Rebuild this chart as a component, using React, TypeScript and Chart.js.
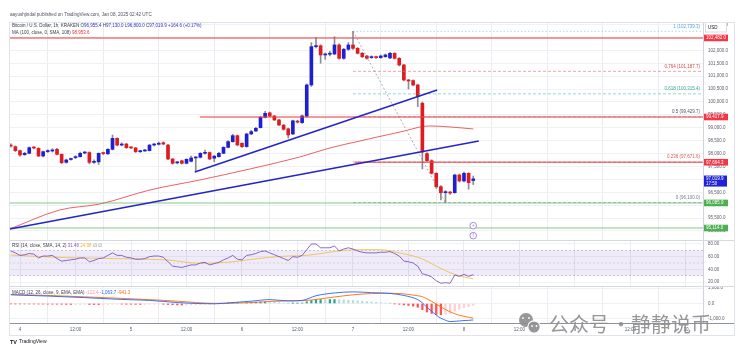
import React, { useEffect, useRef } from 'react';
import { Chart, registerables } from 'chart.js';

Chart.register(...registerables);

const SANS = '"Liberation Sans", Arial, sans-serif';
const CJK = '"Noto Sans CJK SC", sans-serif';
const FS = 4.5;
const TEXT = '#3a3e48';
const AXIS_TEXT = '#5d606b';
const GRID = '#f0f1f4';
const VGRID = '#eaecef';
const UP = '#1f1fd2';
const DOWN = '#e01b1f';
const WICK = '#8c8c94';

const PAD_LEFT = 9;
const PAD_RIGHT = 6;
const AXIS_W = 31;

// ---------- time axis (hours since Jan 4 2025 00:00 UTC) ----------
const X_MIN = -2.38;
const X_MAX = 147.68;
const tickHours = [0, 12, 24, 36, 48, 60, 72, 84, 96, 108, 120, 132, 144];
const tickLabels = ['4', '12:00', '5', '12:00', '6', '12:00', '7', '12:00', '8', '12:00', '9', '12:00', '10'];

// ---------- texts ----------
const headerText = 'aayushjindal published on TradingView.com, Jan 08, 2025 02:42 UTC';
const symbolTitle = 'Bitcoin / U.S. Dollar, 1h, KRAKEN';
const ohlcLabels = ['O', 'H', 'L', 'C'];
const ohlcValues = ['96,955.4', '97,130.0', '96,800.0', '97,019.9'];
const changeText = '+164.6 (+0.17%)';
const maTitle = 'MA (100, close, 0, SMA, 108)';
const maLastText = '98,953.6';
const rsiTitle = 'RSI (14, close, SMA, 14, 2)';
const rsiLegendValues = ['31.46', '24.98', '\u2205', '\u2205'];
const macdTitle = 'MACD (12, 26, close, 9, EMA, EMA)';
const macdLegendValues = ['-122.4', '-1,063.7', '-941.3'];
const countdownText = '17:50';
const watermarkLeft = '公众号';
const watermarkDot = '·';
const watermarkRight = '静静说币';

// ---------- price pane ----------
const PRICE_MIN = 94650;
const PRICE_MAX = 103100;
const priceTicks = [95000, 95500, 96000, 96500, 97000, 97500, 98000, 98500, 99000, 99500, 100000, 100500, 101000, 101500, 102000, 102500, 103000];

const firstCandleHour = -2;
const opens = [
  98320, 98268, 98113, 97958, 98010, 98230, 98200, 97907, 98075, 98100,
  98165, 97970, 97660, 97770, 97840, 97880, 98020, 98040, 97660, 97680,
  98010, 97990, 98165, 98590, 98330, 98370, 98230, 98220, 98075, 98100,
  98115, 98330, 98360, 98420, 98330, 97790, 97640, 97720, 97622, 97700,
  97830, 97855, 98010, 98040, 97820, 97880, 98010, 98240, 98462, 98695,
  98400, 98270, 98760, 98876, 99006, 99406, 99580, 99458, 99303, 99100,
  98960, 98760, 99250, 99200, 99450, 100660, 102145, 102180, 101822, 101850,
  101860, 102210, 101693, 102042, 102210, 102080, 101887, 101780, 101720, 101740,
  101720, 101757, 101706, 101887, 101693, 101434, 100853, 100830, 100659, 99950,
  98000, 97726, 97235, 96718, 96485, 96490, 96485, 97170, 96938, 97235,
  96955.4,
];
const highs = [
  98380, 98300, 98140, 98050, 98260, 98270, 98230, 98100, 98150, 98190,
  98200, 97990, 97790, 97830, 97920, 98060, 98090, 98070, 97760, 98030,
  98060, 98190, 98720, 98610, 98420, 98400, 98270, 98240, 98130, 98160,
  98350, 98400, 98450, 98460, 98360, 97810, 97690, 97750, 97800, 97900,
  97880, 98040, 98140, 98060, 97930, 98050, 98270, 98500, 98750, 98720,
  98420, 98790, 98900, 99020, 99450, 99640, 99610, 99480, 99330, 99130,
  98990, 99300, 99290, 99490, 100700, 102300, 102500, 102220, 101900, 101960,
  102530, 102250, 102080, 102300, 102739.3, 102110, 101920, 101810, 101790, 101780,
  101820, 101860, 101920, 101910, 101720, 101460, 100880, 100860, 100690, 100000,
  98040, 97760, 97260, 96760, 96560, 96540, 97200, 97210, 97280, 97260,
  97130,
];
const lows = [
  98250, 98080, 97900, 97930, 97990, 98180, 97880, 97870, 98040, 98060,
  97950, 97610, 97630, 97740, 97810, 97860, 97990, 97600, 97620, 97580,
  97960, 97970, 98140, 98300, 98300, 98200, 98190, 98040, 98040, 98080,
  98100, 98300, 98330, 98340, 97760, 97590, 97600, 97600, 97600, 97680,
  97300, 97830, 97980, 97760, 97680, 97860, 97990, 98220, 98440, 98300,
  98240, 98250, 98730, 98850, 98990, 99380, 99430, 99280, 99080, 98910,
  98600, 98730, 99180, 99170, 99420, 100600, 102100, 101500, 101650, 101790,
  101830, 101660, 101650, 102000, 102040, 101860, 101720, 101660, 101690, 101690,
  101690, 101730, 101680, 101660, 101400, 100820, 100500, 100620, 99820, 97400,
  97690, 97200, 96650, 96200, 96100, 96420, 96460, 96900, 96900, 96620,
  96800,
];
const closes = [
  98290, 98113, 97945, 98010, 98230, 98215, 97907, 98075, 98100, 98140,
  97970, 97648, 97752, 97790, 97880, 98010, 98040, 97660, 97700, 98010,
  98000, 98165, 98590, 98330, 98370, 98230, 98220, 98075, 98100, 98120,
  98330, 98360, 98400, 98370, 97790, 97622, 97650, 97622, 97777, 97830,
  97840, 98010, 98040, 97790, 97900, 98010, 98240, 98462, 98695, 98333,
  98268, 98759, 98850, 98980, 99406, 99561, 99458, 99303, 99109, 98941,
  98721, 99270, 99220, 99460, 100660, 102145, 102180, 101822, 101850, 101870,
  102210, 101693, 102042, 102210, 102080, 101887, 101757, 101693, 101740, 101720,
  101783, 101822, 101887, 101693, 101434, 100853, 100814, 100659, 100207, 98060,
  97726, 97235, 96718, 96485, 96500, 96470, 97170, 96938, 97235, 96873,
  97019.9,
];

// MA(100) read at a few hours
const maHours = [-2.2, 8.6, 17.3, 28.1, 38.9, 49.7, 60.5, 67, 73.5, 82.2, 88.6, 93, 98];
const maValues = [95078, 95814, 96047, 96589, 96977, 97403, 97868, 98217, 98488, 98837, 99070, 99031, 98953.6];

// blue trend lines (two anchors each)
const trend1Hours = [37.8, 90.2];
const trend1Prices = [97287, 100465];
const trend2Hours = [-2.2, 99.2];
const trend2Prices = [95078, 98488];

// horizontal levels
const levelPrices = [102482.0, 99417.9, 97664.3, 96085.9, 95114.0];
const levelStartHours = [X_MIN, 38.9, 72.4, X_MIN, X_MIN];
const levelColors = ['rgba(236,64,64,0.7)', 'rgba(236,64,64,0.7)', 'rgba(236,64,64,0.7)', 'rgba(76,175,80,0.45)', 'rgba(76,175,80,0.45)'];
const tagColors = ['#f23645', '#f23645', '#f23645', '#4caf50', '#4caf50'];
const lastPrice = 97019.9;

// fibonacci retracement
const fibStartHour = 72;
const fibEndHour = 92;
const fibRatios = ['1', '0.764', '0.618', '0.5', '0.236', '0'];
const fibPrices = [102739.3, 101187.7, 100315.4, 99429.7, 97671.6, 96100.0];
const fibLineColors = ['rgba(100,181,246,0.7)', 'rgba(229,115,115,0.8)', 'rgba(77,182,172,0.7)', 'rgba(120,123,134,0.5)', 'rgba(229,115,115,0.8)', 'rgba(120,123,134,0.6)'];
const fibLabelColors = ['#5a9fe0', '#d04a4a', '#35a891', '#50535e', '#dc5a5a', '#787b86'];

// event markers
const eventHours = [98, 98];
const eventPrices = [95205, 94818];

// ---------- RSI pane ----------
const RSI_MIN = 13.7;
const RSI_MAX = 86.3;
const rsiTicks = [20, 40, 60, 80];
const rsiValues = [
  69, 66, 62, 63, 65, 64, 58, 61, 61, 62,
  57, 53, 54, 55, 56, 58, 58, 52, 54, 57,
  58, 62, 66, 62, 62, 59, 58, 56, 56, 57,
  60, 61, 61, 59, 52, 45, 44, 43, 45, 47,
  47, 50, 51, 47, 49, 51, 55, 58, 62, 56,
  55, 62, 63, 65, 68, 69, 66, 63, 60, 57,
  54, 60, 59, 62, 71, 80, 80, 74, 74, 74,
  77, 69, 72, 74, 72, 69, 67, 66, 66, 66,
  67, 67, 68, 65, 61, 53, 52, 50, 45, 33,
  31, 28, 22, 18, 19, 18, 31, 29, 32, 29,
  31.46,
];
const rsiMaHours = [-2, 10, 18, 25, 32, 39, 46, 49, 54, 58, 62, 66, 70, 74, 78, 82, 84, 86, 88, 90, 92, 94, 96, 98];
const rsiMaValues = [62.6, 58.4, 57.3, 56.3, 54.7, 49.4, 52, 54.7, 59, 61, 62, 66, 70, 71, 71, 66, 63, 59, 53, 45, 38, 32, 28, 24.98];
const rsiBands = [70, 50, 30];

// ---------- MACD pane ----------
const MACD_MIN = -1260;
const MACD_MAX = 1130;
const macdTicks = [-1000, 0, 1000];
const macdHours = [-2, 6, 14, 22, 28, 34, 38, 42, 46, 50, 54, 58, 61, 64, 68, 72, 76, 80, 83, 86, 87, 88, 89, 90, 91, 92, 93, 94, 95, 96, 97, 98];
const macdValues = [560, 480, 380, 260, 200, 60, 0, -20, 60, 150, 250, 170, 200, 500, 680, 750, 700, 650, 520, 250, 40, -250, -500, -750, -950, -1080, -1170, -1150, -1130, -1100, -1090, -1063.7];
const signalValues = [580, 520, 430, 330, 250, 150, 60, 10, 20, 60, 130, 170, 180, 260, 420, 560, 640, 660, 620, 500, 440, 300, 140, -40, -220, -390, -540, -660, -760, -830, -890, -941.3];
const histValues = [
  -20, -25, -28, -30, -32, -35, -38, -40,
  -42, -45, -48, -52, -58, -62, -60, -58,
  -55, -62, -68, -70, -66, -60, -48, -40,
  -42, -48, -52, -56, -58, -56, -50, -46,
  -44, -48, -66, -82, -92, -96, -92, -82,
  -74, -60, -48, -46, -36, -22, -4, 16,
  40, 48, 44, 62, 80, 90, 96, 100,
  96, 82, 58, 30, 6, 14, 18, 26,
  110, 190, 250, 250, 240, 250, 255, 240,
  230, 215, 195, 170, 145, 120, 95, 75,
  55, 30, 5, -20, -50, -90, -120, -170,
  -240, -400, -550, -640, -710, -730, -690, -630,
  -490, -370, -270, -200, -122.4,
];

// ---------- helpers ----------
const fmt1 = (v: number) => v.toLocaleString('en-US', { minimumFractionDigits: 1, maximumFractionDigits: 1 });

function drawRuns(ctx: CanvasRenderingContext2D, runs: Array<[string, string]>, x: number, y: number, size = FS, font = SANS) {
  ctx.save();
  ctx.font = `${size}px ${font}`;
  ctx.textBaseline = 'middle';
  ctx.textAlign = 'left';
  let cx = x;
  for (const [s, c] of runs) {
    ctx.fillStyle = c;
    ctx.fillText(s, cx, y);
    cx += ctx.measureText(s).width;
  }
  ctx.restore();
}

function drawText(ctx: CanvasRenderingContext2D, s: string, x: number, y: number, color: string, align: CanvasTextAlign = 'left', size = FS, font = SANS, weight = '') {
  ctx.save();
  ctx.font = `${weight ? weight + ' ' : ''}${size}px ${font}`;
  ctx.textBaseline = 'middle';
  ctx.textAlign = align;
  ctx.fillStyle = color;
  ctx.fillText(s, x, y);
  ctx.restore();
}

function hLine(ctx: CanvasRenderingContext2D, x1: number, x2: number, y: number, color: string, w = 1) {
  ctx.save();
  ctx.strokeStyle = color;
  ctx.lineWidth = w;
  ctx.beginPath();
  ctx.moveTo(x1, y);
  ctx.lineTo(x2, y);
  ctx.stroke();
  ctx.restore();
}

const lineDs = (data: any[], color: string, width: number, dash: number[] = [], extra: any = {}) => ({
  type: 'line',
  data,
  borderColor: color,
  borderWidth: width,
  borderDash: dash,
  pointRadius: 0,
  fill: false,
  tension: 0,
  ...extra,
});

const zeroPad = (s: any) => {
  s.paddingTop = 0;
  s.paddingBottom = 0;
  s.paddingLeft = 0;
  s.paddingRight = 0;
};

const xScale = (showLabels: boolean) => ({
  type: 'linear',
  min: X_MIN,
  max: X_MAX,
  offset: false,
  afterBuildTicks: (s: any) => { s.ticks = tickHours.map((v) => ({ value: v })); },
  afterFit: (s: any) => { s.height = showLabels ? 12 : 0; zeroPad(s); },
  ticks: showLabels
    ? { display: true, autoSkip: false, maxRotation: 0, padding: 4.5, color: AXIS_TEXT, font: { size: FS, family: SANS }, callback: (_v: any, i: number) => tickLabels[i] }
    : { display: false },
  grid: { color: VGRID, drawTicks: false, lineWidth: 1 },
  border: { display: false },
});

const yScale = (min: number, max: number, ticks: number[], fmt: (v: number) => string) => ({
  position: 'right',
  min,
  max,
  afterBuildTicks: (s: any) => { s.ticks = ticks.map((v) => ({ value: v })); },
  afterFit: (s: any) => { s.width = AXIS_W; zeroPad(s); },
  ticks: { color: AXIS_TEXT, padding: 5, font: { size: FS, family: SANS }, callback: (v: any) => fmt(Number(v)) },
  grid: { color: GRID, drawTicks: false },
  border: { display: true, color: '#d1d4dc' },
});

const baseOptions = (padTop: number, padBottom: number) => ({
  responsive: false,
  animation: false,
  events: [],
  layout: { padding: { left: PAD_LEFT, right: PAD_RIGHT, top: padTop, bottom: padBottom }, autoPadding: false },
  plugins: { legend: { display: false }, tooltip: { enabled: false } },
});

// ---------- main chart ----------
function mainConfig(): any {
  const hours = opens.map((_, i) => firstCandleHour + i);
  const bodyData = hours.map((h, i) => ({ x: h, y: [opens[i], closes[i]] }));
  const wickData = hours.map((h, i) => ({ x: h, y: [lows[i], highs[i]] }));
  const candleColors = opens.map((o, i) => (closes[i] >= o ? UP : DOWN));
  const maData = maHours.map((h, i) => ({ x: h, y: maValues[i] }));
  const t1 = trend1Hours.map((h, i) => ({ x: h, y: trend1Prices[i] }));
  const t2 = trend2Hours.map((h, i) => ({ x: h, y: trend2Prices[i] }));
  const levels = levelPrices.map((p, i) => lineDs([{ x: levelStartHours[i], y: p }, { x: X_MAX, y: p }], levelColors[i], 1.6));
  const fibs = fibPrices.map((p, i) => lineDs([{ x: fibStartHour, y: p }, { x: X_MAX, y: p }], fibLineColors[i], 0.8, i === 0 ? [1.5, 2] : [3, 2]));
  const diag = lineDs([{ x: fibStartHour, y: fibPrices[0] }, { x: fibEndHour, y: fibPrices[5] }], 'rgba(120,123,134,0.75)', 0.8, [2, 2]);
  const events = {
    type: 'line',
    data: eventHours.map((h, i) => ({ x: h, y: eventPrices[i] })),
    showLine: false,
    pointRadius: 3.3,
    pointBackgroundColor: '#ffffff',
    pointBorderColor: '#a27fdc',
    pointBorderWidth: 0.9,
  };

  const plugin = {
    id: 'mainDecor',
    afterDraw(chart: any) {
      const ctx: CanvasRenderingContext2D = chart.ctx;
      const y = chart.scales.y;
      const area = chart.chartArea;
      // header
      drawText(ctx, headerText, 10, 14.5, '#50535e', 'left', 4.6);
      // legend row 1
      const runs: Array<[string, string]> = [[symbolTitle + ' ', TEXT]];
      ohlcLabels.forEach((l, i) => { runs.push([l, TEXT]); runs.push([ohlcValues[i] + ' ', '#3232c8']); });
      runs.push([changeText, '#3232c8']);
      drawRuns(ctx, runs, 12, 25.5);
      drawRuns(ctx, [[maTitle + ' ', TEXT], [maLastText, '#e0333a']], 12, 32.5);
      // fib labels
      fibPrices.forEach((p, i) => {
        drawText(ctx, `${fibRatios[i]} (${fmt1(p)})`, area.right - 3, y.getPixelForValue(p) - 5, fibLabelColors[i], 'right');
      });
      // event marker glyphs
      eventHours.forEach((h, i) => {
        drawText(ctx, i === 0 ? '+' : 'f', chart.scales.x.getPixelForValue(h), y.getPixelForValue(eventPrices[i]), '#a27fdc', 'center', 4.5);
      });
      // price tags
      const tagX = area.right + 1;
      levelPrices.forEach((p, i) => {
        const py = y.getPixelForValue(p);
        ctx.fillStyle = tagColors[i];
        ctx.fillRect(tagX, py - 3.3, 24, 6.6);
        drawText(ctx, fmt1(p), tagX + 2, py + 0.2, '#ffffff');
      });
      const lp = y.getPixelForValue(lastPrice);
      ctx.fillStyle = '#2121d8';
      ctx.fillRect(tagX, lp - 3.3, 23, 11);
      drawText(ctx, fmt1(lastPrice), tagX + 2, lp + 0.2, '#ffffff');
      drawText(ctx, countdownText, tagX + 2, lp + 5.2, '#ffffff');
      // USD box
      ctx.fillStyle = '#ffffff';
      ctx.fillRect(area.right + 2, 22, 22, 10);
      ctx.strokeStyle = '#d1d4dc';
      ctx.lineWidth = 0.8;
      ctx.strokeRect(area.right + 2.5, 22.5, 21, 9.5);
      drawText(ctx, 'USD', area.right + 5, 27.3, '#131722');
    },
  };

  return {
    type: 'bar',
    data: {
      datasets: [
        events,
        lineDs(t1, '#2424c8', 1.5),
        lineDs(t2, '#2424c8', 1.5),
        ...levels,
        diag,
        ...fibs,
        { type: 'bar', data: bodyData, backgroundColor: candleColors, barThickness: 3, grouped: false, minBarLength: 1, borderWidth: 0 },
        { type: 'bar', data: wickData, backgroundColor: WICK, barThickness: 1, grouped: false, borderWidth: 0 },
        lineDs(maData, 'rgba(232,70,75,0.85)', 1, [], { cubicInterpolationMode: 'monotone' }),
      ],
    },
    options: {
      ...baseOptions(22, 0),
      scales: { x: xScale(false), y: yScale(PRICE_MIN, PRICE_MAX, priceTicks, fmt1) },
    },
    plugins: [plugin],
  };
}

// ---------- RSI chart ----------
function rsiConfig(): any {
  const rsiData = rsiValues.map((v, i) => ({ x: firstCandleHour + i, y: v }));
  const maData = rsiMaHours.map((h, i) => ({ x: h, y: rsiMaValues[i] }));
  const bandLine = (v: number, extra: any = {}) => lineDs([{ x: X_MIN, y: v }, { x: X_MAX, y: v }], v === 50 ? 'rgba(120,123,134,0.3)' : 'rgba(120,123,134,0.5)', 0.7, [2, 2], extra);
  const plugin = {
    id: 'rsiDecor',
    afterDraw(chart: any) {
      const ctx: CanvasRenderingContext2D = chart.ctx;
      hLine(ctx, PAD_LEFT, 734, 0.5, '#d6d9e0', 1);
      drawRuns(ctx, [[rsiTitle + ' ', TEXT], [rsiLegendValues[0] + ' ', '#7e57c2'], [rsiLegendValues[1] + ' ', '#e8b53a'], [rsiLegendValues[2] + ' ', '#787b86'], [rsiLegendValues[3], '#787b86']], 12, 6);
    },
  };
  return {
    type: 'line',
    data: {
      datasets: [
        lineDs(rsiData, '#7e57c2', 0.9),
        lineDs(maData, '#f2c14e', 0.9, [], { cubicInterpolationMode: 'monotone' }),
        bandLine(rsiBands[0], { fill: { value: rsiBands[2] }, backgroundColor: 'rgba(126,87,194,0.12)' }),
        bandLine(rsiBands[1]),
        bandLine(rsiBands[2]),
      ],
    },
    options: {
      ...baseOptions(0, 0),
      scales: { x: xScale(false), y: yScale(RSI_MIN, RSI_MAX, rsiTicks, (v) => v.toFixed(2)) },
    },
    plugins: [plugin],
  };
}

// ---------- MACD chart ----------
function macdConfig(): any {
  const hours = histValues.map((_, i) => firstCandleHour + i);
  const histColors = histValues.map((v, i) => {
    const prev = i > 0 ? histValues[i - 1] : v;
    if (v >= 0) return v >= prev ? '#26a69a' : '#b2dfdb';
    return v <= prev ? '#ff5252' : '#ffcdd2';
  });
  const plugin = {
    id: 'macdDecor',
    afterDraw(chart: any) {
      const ctx: CanvasRenderingContext2D = chart.ctx;
      const area = chart.chartArea;
      hLine(ctx, PAD_LEFT, 734, 0.5, '#d6d9e0', 1);
      hLine(ctx, PAD_LEFT, 734, area.bottom + 0.5, '#8f939c', 1);
      drawRuns(ctx, [[macdTitle + ' ', TEXT], [macdLegendValues[0] + ' ', '#f7a1aa'], [macdLegendValues[1] + ' ', '#2962ff'], [macdLegendValues[2], '#ff6d00']], 12, 7);
      // TradingView logo
      drawText(ctx, 'TV', 10, 56, '#131722', 'left', 5.5, SANS, 'bold');
      drawRuns(ctx, [['TradingView', '#131722']], 19, 56, 5);
      // watermark
      const wm = 'rgba(140,140,140,0.9)';
      ctx.save();
      ctx.fillStyle = wm;
      ctx.beginPath();
      ctx.arc(526, 34, 7, 0, Math.PI * 2);
      ctx.fill();
      ctx.strokeStyle = '#ffffff';
      ctx.lineWidth = 1.2;
      ctx.beginPath();
      ctx.arc(534, 41, 6.2, 0, Math.PI * 2);
      ctx.fill();
      ctx.stroke();
      ctx.fillStyle = '#ffffff';
      [[523, 32], [529, 32], [532, 40], [536.5, 40]].forEach(([cx, cy]) => {
        ctx.beginPath();
        ctx.arc(cx, cy, 0.9, 0, Math.PI * 2);
        ctx.fill();
      });
      ctx.restore();
      drawText(ctx, watermarkLeft, 549, 38, wm, 'left', 20, CJK);
      drawText(ctx, watermarkDot, 621, 38, wm, 'center', 20, CJK);
      drawText(ctx, watermarkRight, 631, 38, wm, 'left', 20, CJK);
    },
  };
  return {
    type: 'bar',
    data: {
      datasets: [
        lineDs(macdHours.map((h, i) => ({ x: h, y: macdValues[i] })), '#2962ff', 0.9, [], { cubicInterpolationMode: 'monotone' }),
        lineDs(macdHours.map((h, i) => ({ x: h, y: signalValues[i] })), '#ff6d00', 0.9, [], { cubicInterpolationMode: 'monotone' }),
        { type: 'bar', data: hours.map((h, i) => ({ x: h, y: histValues[i] })), backgroundColor: histColors, barThickness: 1.6, grouped: false, borderWidth: 0 },
      ],
    },
    options: {
      ...baseOptions(0, 20),
      scales: {
        x: xScale(true),
        y: yScale(MACD_MIN, MACD_MAX, macdTicks, (v) => fmt1(v)),
      },
    },
    plugins: [plugin],
  };
}

export default function App() {
  const mainRef = useRef<HTMLCanvasElement>(null);
  const rsiRef = useRef<HTMLCanvasElement>(null);
  const macdRef = useRef<HTMLCanvasElement>(null);

  useEffect(() => {
    const charts = [
      new Chart(mainRef.current as HTMLCanvasElement, mainConfig()),
      new Chart(rsiRef.current as HTMLCanvasElement, rsiConfig()),
      new Chart(macdRef.current as HTMLCanvasElement, macdConfig()),
    ];
    return () => charts.forEach((c) => c.destroy());
  }, []);

  const abs = (top: number, h: number): React.CSSProperties => ({ position: 'absolute', left: 0, top, width: 740, height: h });

  return (
    <div style={{ position: 'fixed', left: 0, top: 0, width: 740, height: 355, background: '#ffffff', overflow: 'hidden' }}>
      <canvas ref={mainRef} width={740} height={240} style={abs(0, 240)} />
      <canvas ref={rsiRef} width={740} height={46} style={abs(240, 46)} />
      <canvas ref={macdRef} width={740} height={69} style={abs(286, 69)} />
      <div style={{ position: 'absolute', left: 9, top: 22, width: 726, height: 314, border: '1px solid #e0e3eb', boxSizing: 'border-box', pointerEvents: 'none' }} />
    </div>
  );
}
